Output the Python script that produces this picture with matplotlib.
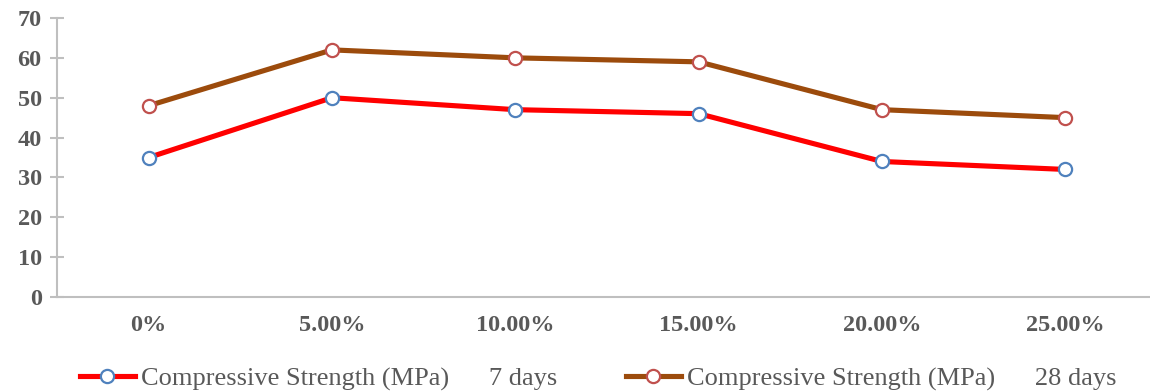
import matplotlib
matplotlib.use("Agg")
import matplotlib.pyplot as plt

categories = ["0%", "5.00%", "10.00%", "15.00%", "20.00%", "25.00%"]
strength_7d = [35, 50, 47, 46, 34, 32]
strength_28d = [48, 62, 60, 59, 47, 45]
label_7d = "Compressive Strength (MPa)      7 days"
label_28d = "Compressive Strength (MPa)      28 days"

plt.rcParams["font.family"] = ["Liberation Serif", "DejaVu Serif"]

fig = plt.figure(figsize=(11.5, 3.92), dpi=100)
ax = fig.add_axes([57 / 1150, 1 - 297 / 392, 1100 / 1150, (297 - 18) / 392])

x = list(range(len(categories)))
ax.plot(x, strength_7d, color="#FF0000", lw=3.7, marker="o", ms=9.5,
        mfc="white", mec="#4F81BD", mew=1.6, label=label_7d, zorder=3)
ax.plot(x, strength_28d, color="#9C4B0C", lw=3.7, marker="o", ms=9.5,
        mfc="white", mec="#C0504D", mew=1.6, label=label_28d, zorder=3)

ax.set_xlim(-0.5, len(categories) - 0.5)
ax.set_ylim(0, 70)
ax.set_yticks(range(0, 71, 10))
ax.set_xticks(x)
ax.set_xticklabels(categories)

for s in ["top", "right"]:
    ax.spines[s].set_visible(False)
for s in ["left", "bottom"]:
    ax.spines[s].set_color("#BFBFBF")
    ax.spines[s].set_linewidth(1.5)

ax.tick_params(axis="y", direction="inout", length=10, width=1.5,
               color="#BFBFBF", pad=6, labelsize=17.5, labelcolor="#595959")
ax.tick_params(axis="x", length=0, pad=13, labelsize=17.5, labelcolor="#595959")
for lab in ax.get_xticklabels() + ax.get_yticklabels():
    lab.set_fontweight("bold")

leg = fig.legend(loc="center", bbox_to_anchor=(0.52, 0.034), ncol=2,
                 frameon=False, fontsize=19, handlelength=2.1,
                 handletextpad=0.22, columnspacing=2.6)
for t in leg.get_texts():
    t.set_color("#595959")

fig.savefig("out.png", dpi=100)
